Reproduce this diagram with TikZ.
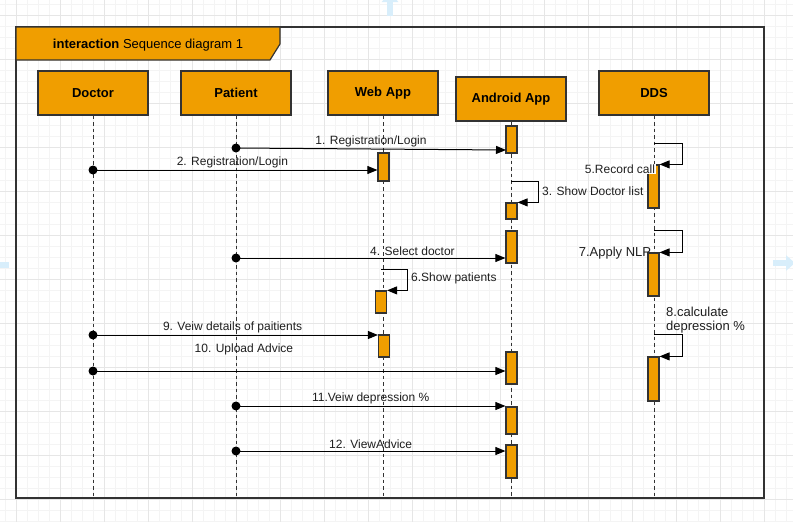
\documentclass[tikz,border=0pt]{standalone}
\usepackage{fontspec}
\setmainfont{Liberation Sans}
\usetikzlibrary{arrows.meta}

\definecolor{umlorange}{HTML}{F09E00}
\definecolor{umlline}{HTML}{333333}
\definecolor{gridminor}{HTML}{F4F4F4}
\definecolor{gridmajor}{HTML}{E6E6E6}
\definecolor{hoverblue}{HTML}{D8EEFB}

\tikzset{
    head/.style={draw=umlline, fill=umlorange, line width=1.2pt,
        minimum width=110pt, minimum height=44pt, inner sep=0pt,
        font=\fontsize{13}{15}\selectfont\bfseries},
    actbar/.style={draw=umlline, fill=umlorange, line width=1.2pt,
        minimum width=11pt, inner sep=0pt},
    lifeline/.style={draw=umlline, line width=1pt, dash pattern=on 3.5pt off 3pt},
    msg/.style={draw=black, line width=1pt, -{Triangle[length=10pt,width=8pt]}},
    msgdot/.style={circle, fill=black, inner sep=0pt, minimum size=9pt},
    msglabel/.style={font=\fontsize{12}{14}\selectfont, text=black!88, inner sep=1pt},
}

\begin{document}
\begin{tikzpicture}[x=1pt, y=-1pt]

\fill[white] (0,0) rectangle (793,522);
\useasboundingbox (0,0) rectangle (793,522);

% grid
\foreach \gx in {5,16,...,793} \draw[gridminor, line width=1pt] (\gx,0) -- (\gx,522);
\foreach \gy in {4,15,...,522} \draw[gridminor, line width=1pt] (0,\gy) -- (793,\gy);
\foreach \gx in {16,60,...,793} \draw[gridmajor, line width=1pt] (\gx,0) -- (\gx,522);
\foreach \gy in {15,59,...,522} \draw[gridmajor, line width=1pt] (0,\gy) -- (793,\gy);

% hover arrows
\draw[hoverblue, line width=6pt, -{Triangle[length=10pt,width=16pt]}] (390,16) -- (390,-8);
\draw[hoverblue, line width=6pt, -{Triangle[length=9pt,width=15pt]}] (773,263) -- (795,263);
\draw[hoverblue, line width=6pt, -{Triangle[length=9pt,width=15pt]}] (9,265) -- (-12,265);

% frame
\coordinate (frameNW) at (16,27);
\coordinate (frameSE) at (764,498);
\draw[umlline, line width=1.5pt] (frameNW) rectangle (frameSE);
\draw[umlline, fill=umlorange, line width=1.2pt]
    (frameNW) -- (280,27) -- (280,44) -- (270,60) -- (16,60) -- cycle;
\node (title) [
    font=\fontsize{13}{15}\selectfont,
    align=center
] at (148,45) {\textbf{interaction} Sequence diagram 1};

% heads
\node (doctor) [head] at (93,93) {Doctor};
\node (patient) [head] at (236,93) {Patient};
\node (webapp) [head] at (383,93) {Web App};
\node (android) [head] at (511,99) {Android App};
\node (dds) [head] at (654,93) {DDS};

% lifelines
\foreach \who in {doctor,patient,webapp,android,dds}
    \draw[lifeline] (\who.south) -- (\who.south |- frameSE);

% activation bars
\node (a1) [actbar, minimum height=27pt] at (511.5,139.5) {};
\node (w1) [actbar, minimum height=28pt] at (383.5,167) {};
\node (a2) [actbar, minimum height=16pt] at (511.5,211) {};
\node (a3) [actbar, minimum height=32pt] at (511.5,247) {};
\node (d1) [actbar, minimum height=43pt] at (653.5,186.5) {};
\node (d2) [actbar, minimum height=43pt] at (653.5,274.5) {};
\node (w2) [actbar, minimum height=22pt] at (381,302) {};
\node (w3) [actbar, minimum height=22pt] at (384,346) {};
\node (a4) [actbar, minimum height=32pt] at (511.5,368) {};
\node (d3) [actbar, minimum height=44pt] at (653.5,379) {};
\node (a5) [actbar, minimum height=27pt] at (511.5,420.5) {};
\node (a6) [actbar, minimum height=33pt] at (511.5,461.5) {};

% message start points
\node (p1) [msgdot] at (236,148) {};
\node (p2) [msgdot] at (93,170) {};
\node (p4) [msgdot] at (236,258) {};
\node (p9) [msgdot] at (93,335) {};
\node (p10) [msgdot] at (93,371) {};
\node (p11) [msgdot] at (236,406) {};
\node (p12) [msgdot] at (236,451) {};
\coordinate (e1) at (506,150);
\coordinate (s3) at (511,181);
\coordinate (s5) at (654,143);
\coordinate (s6) at (381,269);
\coordinate (s7) at (654,230);
\coordinate (s8) at (654,334);

% 1 - 2
\draw[msg] (p1.center) -- node[msglabel, above=1pt, pos=0.5]{1. Registration/Login} (e1);
\draw[msg] (p2.center) -- node[msglabel, above=1pt, pos=0.49]{2. Registration/Login} (w1.west |- p2);

% 3
\draw[msg] (s3) -- ++(27,0) |- (a2.north east);
\node (l3) [msglabel, anchor=west] at (541,191) {3. Show Doctor list};

% 4
\draw[msg] (p4.center) -- node[msglabel, above=1pt, pos=0.655]{4. Select doctor} (a3.west |- p4);

% 5
\draw[msg] (s5) -- ++(28,0) |- (d1.north east);
\node (l5) [msglabel, fill=white, inner sep=0.5pt] at (620,169) {5.Record call};

% 6
\draw[msg] (s6) -- ++(26,0) |- (w2.north east);
\node (l6) [msglabel, anchor=west] at (410,278) {6.Show patients};

% 7
\draw[msg] (s7) -- ++(28,0) |- (d2.north east);
\node (l7) [msglabel, font=\fontsize{13}{15}\selectfont] at (615,253) {7.Apply NLP};

% 8
\draw[msg] (s8) -- ++(28,0) |- (d3.north east);
\node (l8) [msglabel, anchor=west, align=left, font=\fontsize{13}{14}\selectfont] at (665,320) {8.calculate\\depression \%};

% 9 - 10
\draw[msg] (p9.center) -- node[msglabel, above=1pt, pos=0.49]{9. Veiw details of paitients} (w3.west |- p9);
\draw[msg] (p10.center) -- node[msglabel, above=15pt, pos=0.366]{10. Upload Advice} (a4.west |- p10);

% 11 - 12
\draw[msg] (p11.center) -- node[msglabel, above=1pt, pos=0.5]{11.Veiw depression \%} (a5.west |- p11);
\draw[msg] (p12.center) -- node[msglabel, above=1pt, pos=0.5]{12. ViewAdvice} (a6.west |- p12);

\end{tikzpicture}
\end{document}
